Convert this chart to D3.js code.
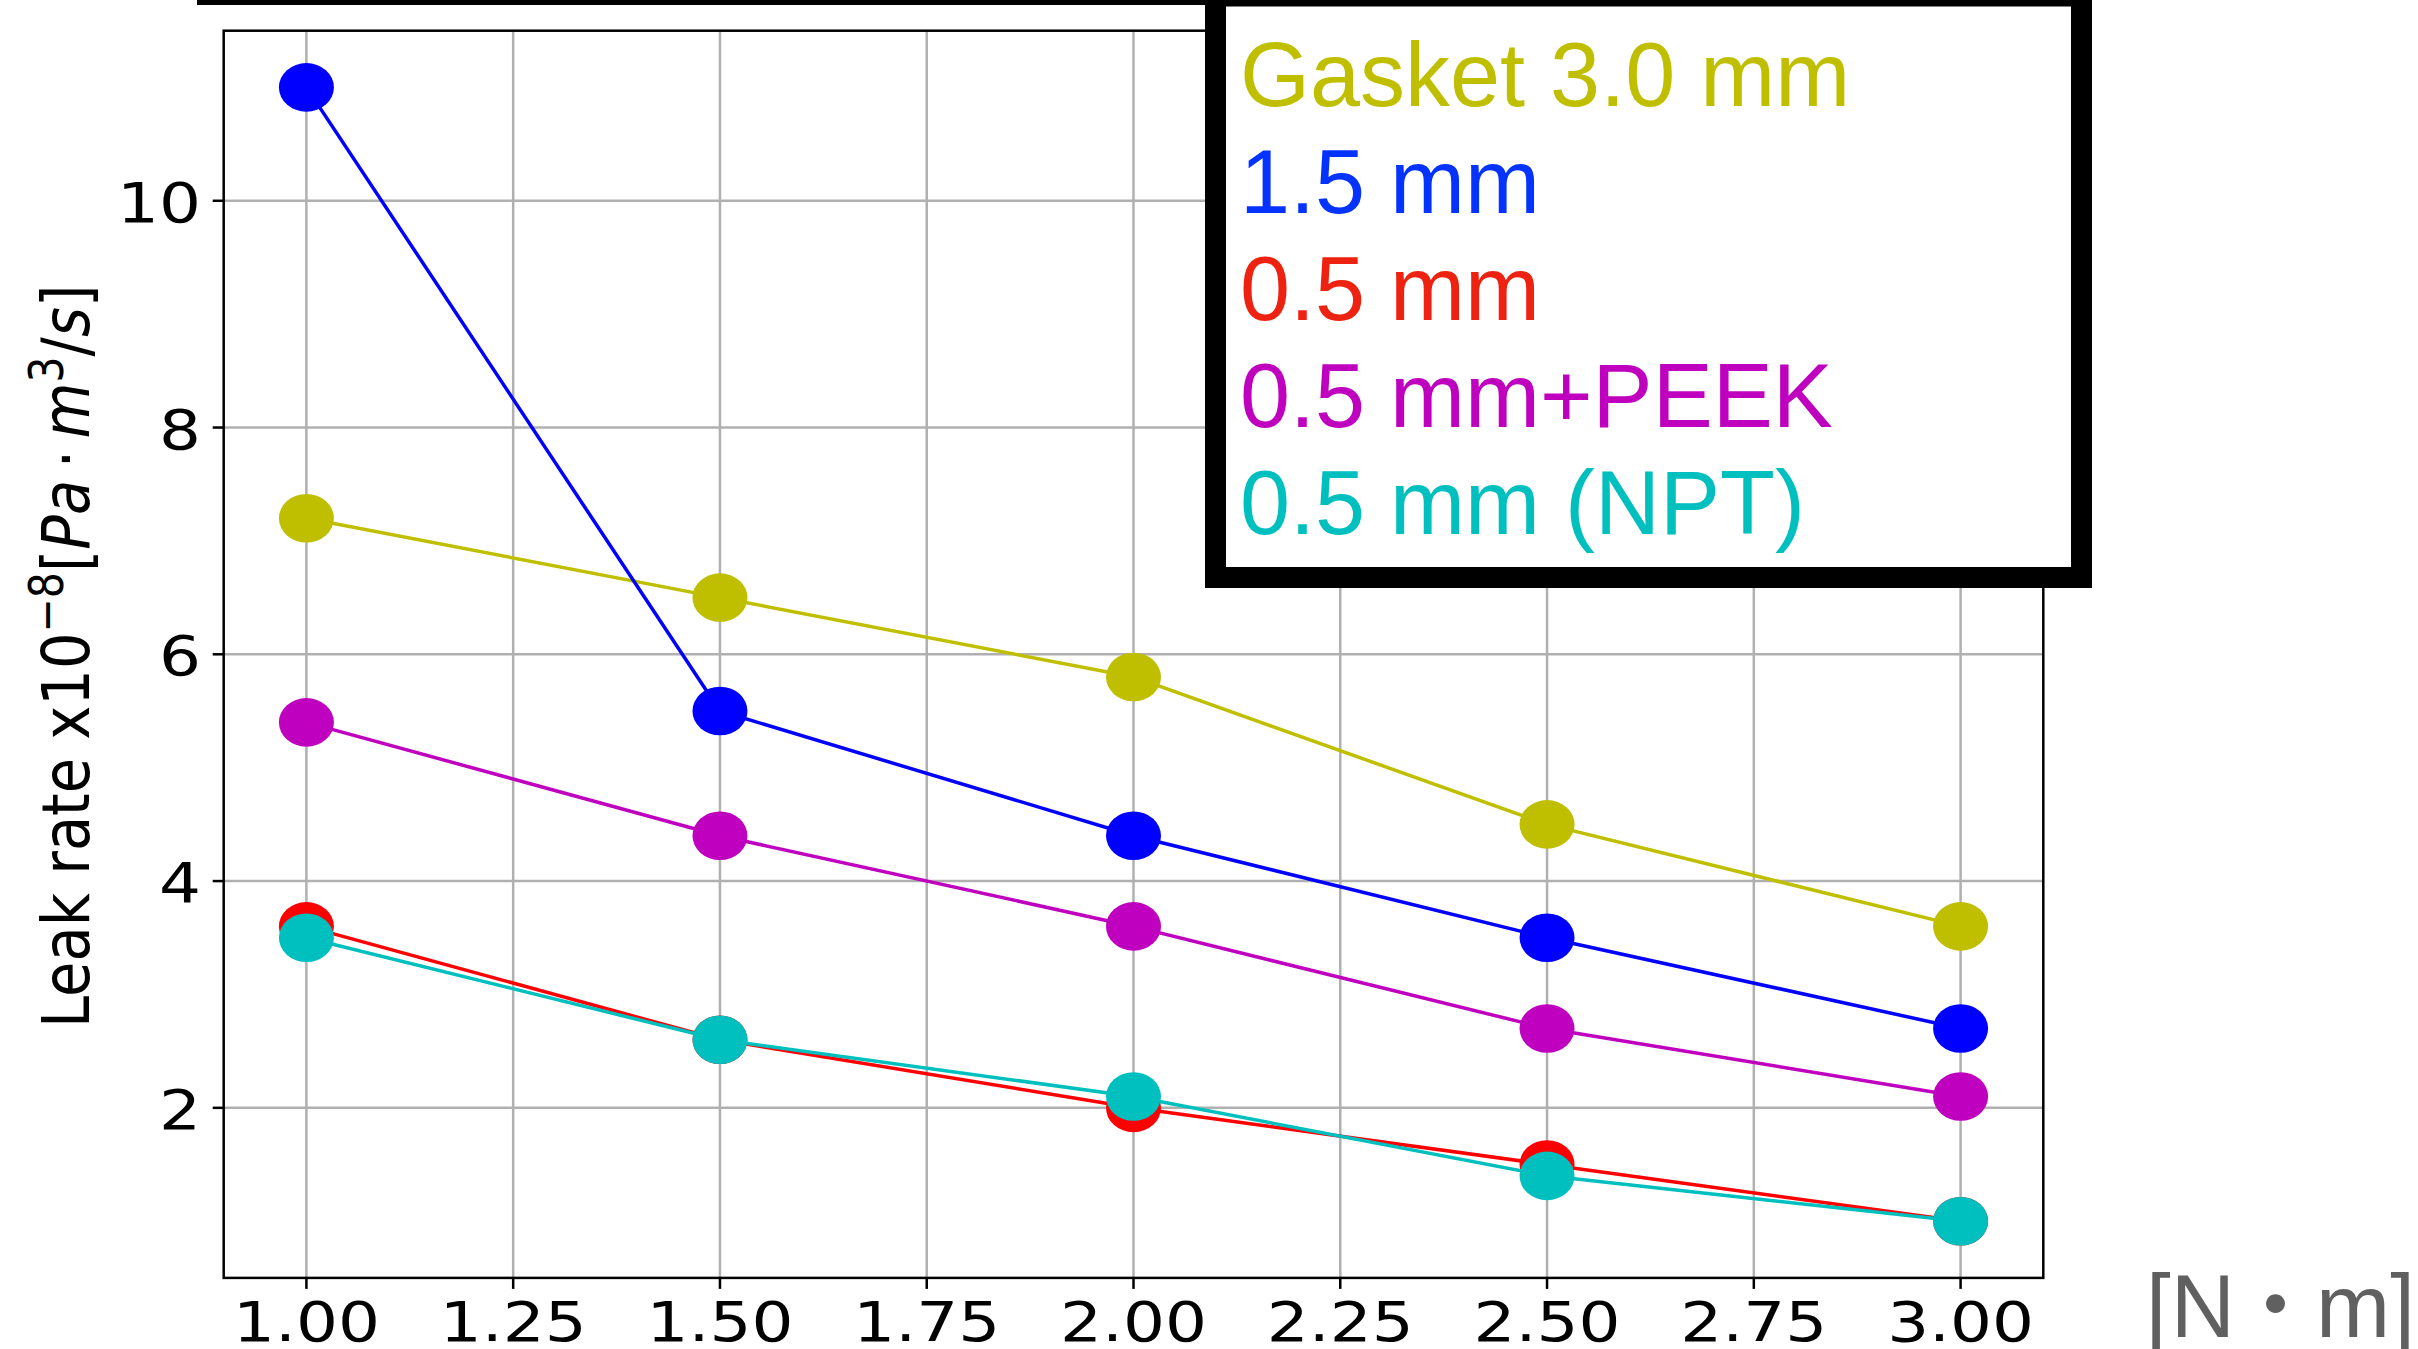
<!DOCTYPE html>
<html>
<head>
<meta charset="utf-8">
<script src="https://cdn.jsdelivr.net/npm/d3@7"></script>
<style>
  html, body { margin: 0; padding: 0; background: #fff; }
  svg { display: block; }
</style>
</head>
<body>
<svg id="chart" width="2418" height="1349"></svg>
<script>
// Tightening torque [N·m]
const torque = [1.0, 1.5, 2.0, 2.5, 3.0];

// Leak rate x10^-8 [Pa·m^3/s] for each gasket configuration
const seriesNames = ["Gasket 3.0 mm", "1.5 mm", "0.5 mm", "0.5 mm+PEEK", "0.5 mm (NPT)"];
const gasket30   = [7.2, 6.5, 5.8, 4.5, 3.6];
const gasket15   = [11.0, 5.5, 4.4, 3.5, 2.7];
const gasket05   = [3.6, 2.6, 2.0, 1.5, 1.0];
const gasket05Peek = [5.4, 4.4, 3.6, 2.7, 2.1];
const gasket05Npt  = [3.5, 2.6, 2.1, 1.4, 1.0];

const xTicks = [1.0, 1.25, 1.5, 1.75, 2.0, 2.25, 2.5, 2.75, 3.0];
const yTicks = [2, 4, 6, 8, 10];

const seriesValues = [gasket30, gasket15, gasket05, gasket05Peek, gasket05Npt];
const markerColors = ["#bfbf00", "#0000ff", "#ff0000", "#bf00bf", "#00bfbf"];
const legendColors = ["#bfbf00", "#0433ff", "#ee2211", "#bf00bf", "#00bfbf"];

const svg = d3.select("#chart");

const plot = { left: 223.7, right: 2043.3, top: 30.7, bottom: 1277.9 };
const x = d3.scaleLinear().domain([0.9, 3.1]).range([plot.left, plot.right]);
const y = d3.scaleLinear().domain([0.5, 11.5]).range([plot.bottom, plot.top]);

const tickFont = "'DejaVu Sans', sans-serif";
const stretch = 1.2; // horizontal glyph stretch of the axis text

// grid
const grid = svg.append("g");
grid.selectAll("line.gx").data(xTicks).join("line")
  .attr("x1", d => x(d)).attr("x2", d => x(d))
  .attr("y1", plot.top).attr("y2", plot.bottom)
  .attr("stroke", "#b0b0b0").attr("stroke-width", 2.5);
grid.selectAll("line.gy").data(yTicks).join("line")
  .attr("x1", plot.left).attr("x2", plot.right)
  .attr("y1", d => y(d)).attr("y2", d => y(d))
  .attr("stroke", "#b0b0b0").attr("stroke-width", 2.5);

// series: line then markers, in plotting order
const line = d3.line().x((d, i) => x(torque[i])).y(d => y(d));
seriesValues.forEach((vals, k) => {
  const g = svg.append("g");
  g.append("path").datum(vals)
    .attr("d", line)
    .attr("fill", "none")
    .attr("stroke", markerColors[k])
    .attr("stroke-width", 3.5)
    .attr("stroke-linejoin", "round");
  g.selectAll("ellipse").data(vals).join("ellipse")
    .attr("cx", (d, i) => x(torque[i]))
    .attr("cy", d => y(d))
    .attr("rx", 27.5).attr("ry", 24.3)
    .attr("fill", markerColors[k]);
});

// spines
svg.append("rect")
  .attr("x", plot.left).attr("y", plot.top)
  .attr("width", plot.right - plot.left).attr("height", plot.bottom - plot.top)
  .attr("fill", "none").attr("stroke", "#000").attr("stroke-width", 2.5);

// x axis ticks and labels
const xAxis = svg.append("g");
xAxis.selectAll("line").data(xTicks).join("line")
  .attr("x1", d => x(d)).attr("x2", d => x(d))
  .attr("y1", plot.bottom).attr("y2", plot.bottom + 11)
  .attr("stroke", "#000").attr("stroke-width", 2.5);
xAxis.selectAll("text").data(xTicks).join("text")
  .attr("transform", d => `translate(${x(d)},1341) scale(${stretch},1)`)
  .attr("text-anchor", "middle")
  .attr("font-family", tickFont).attr("font-size", 55)
  .attr("fill", "#000")
  .text(d => d3.format(".2f")(d));

// y axis ticks and labels
const yAxis = svg.append("g");
yAxis.selectAll("line").data(yTicks).join("line")
  .attr("x1", plot.left - 11).attr("x2", plot.left)
  .attr("y1", d => y(d)).attr("y2", d => y(d))
  .attr("stroke", "#000").attr("stroke-width", 2.5);
yAxis.selectAll("text").data(yTicks).join("text")
  .attr("transform", d => `translate(201,${y(d) + 21}) scale(${stretch},1)`)
  .attr("text-anchor", "end")
  .attr("font-family", tickFont).attr("font-size", 55)
  .attr("fill", "#000")
  .text(d => d);

// y axis label
const yl = svg.append("text")
  .attr("transform", `translate(89,${(plot.top + plot.bottom) / 2 + 2}) scale(1.15,1) rotate(-90)`)
  .attr("text-anchor", "middle")
  .attr("font-family", tickFont).attr("font-size", 57.5)
  .attr("fill", "#000");
yl.append("tspan").text("Leak rate x10");
yl.append("tspan").attr("dy", -23).attr("font-size", 41).text("\u22128");
yl.append("tspan").attr("dy", 23).text("[");
yl.append("tspan").attr("font-style", "italic").text("Pa");
yl.append("tspan").text("\u2009\u00b7\u2009");
yl.append("tspan").attr("font-style", "italic").text("m");
yl.append("tspan").attr("dy", -23).attr("font-size", 41).text("3");
yl.append("tspan").attr("dy", 23).text("/");
yl.append("tspan").attr("font-style", "italic").text("s");
yl.append("tspan").text("]");

// x axis unit label
const xl = svg.append("text")
  .attr("x", 2146).attr("y", 1337)
  .attr("font-family", "'Liberation Sans', 'Noto Sans CJK JP', sans-serif")
  .attr("font-size", 89)
  .attr("fill", "#606060");
xl.append("tspan").text("[N");
xl.append("tspan").attr("dx", -4).attr("font-family", "'Noto Sans CJK JP', sans-serif").text("\u30fb");
xl.append("tspan").attr("dx", -4).text("m]");

// bar across the top edge
svg.append("rect")
  .attr("x", 197).attr("y", 0).attr("width", 2092 - 197).attr("height", 5)
  .attr("fill", "#000");

// legend
const legend = svg.append("g");
legend.append("rect")
  .attr("x", 1215.5).attr("y", -4)
  .attr("width", 866).attr("height", 581.5)
  .attr("fill", "#fff").attr("stroke", "#000").attr("stroke-width", 21);
legend.selectAll("text").data(seriesNames).join("text")
  .attr("x", 1240)
  .attr("y", (d, i) => 106 + i * 107)
  .attr("font-family", "'Liberation Sans', Arial, sans-serif")
  .attr("font-size", 90)
  .attr("fill", (d, i) => legendColors[i])
  .text(d => d);
</script>
</body>
</html>
